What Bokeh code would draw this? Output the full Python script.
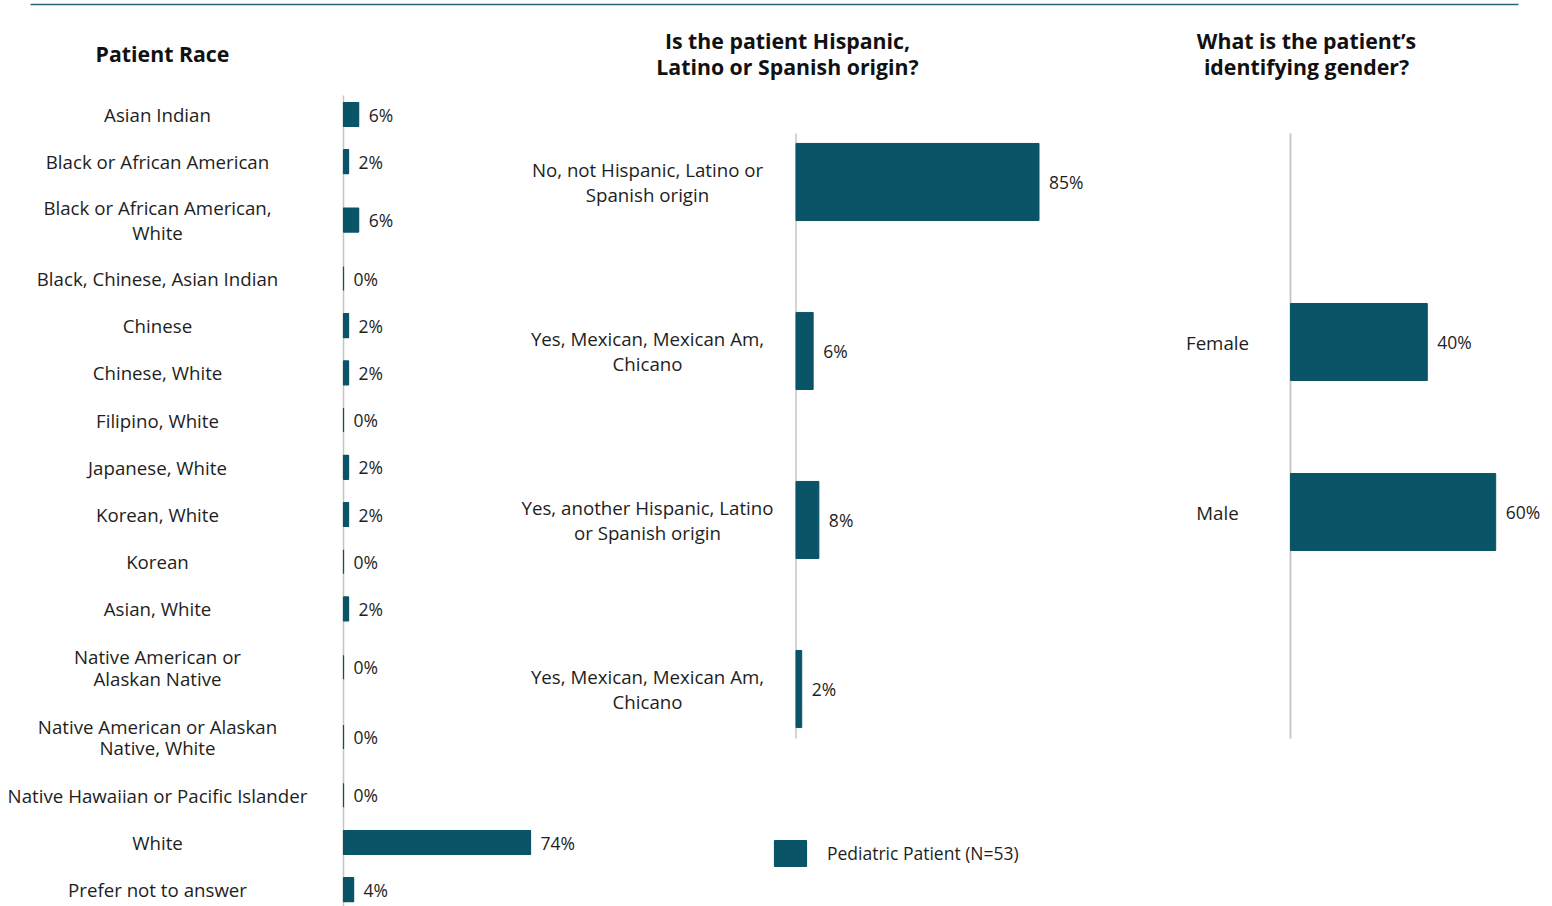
from bokeh.plotting import figure
from bokeh.models import Range1d, ColumnDataSource, Legend, LegendItem
from bokeh.core.properties import value
from bokeh.embed import file_html
from bokeh.resources import INLINE

# ---------------- data ----------------
race_labels = [
    "Asian Indian",
    "Black or African American",
    "Black or African American,\nWhite",
    "Black, Chinese, Asian Indian",
    "Chinese",
    "Chinese, White",
    "Filipino, White",
    "Japanese, White",
    "Korean, White",
    "Korean",
    "Asian, White",
    "Native American or\nAlaskan Native",
    "Native American or Alaskan\nNative, White",
    "Native Hawaiian or Pacific Islander",
    "White",
    "Prefer not to answer",
]
race_values = [6, 2, 6, 0, 2, 2, 0, 2, 2, 0, 2, 0, 0, 0, 74, 4]

hisp_labels = [
    "No, not Hispanic, Latino or\nSpanish origin",
    "Yes, Mexican, Mexican Am,\nChicano",
    "Yes, another Hispanic, Latino\nor Spanish origin",
    "Yes, Mexican, Mexican Am,\nChicano",
]
hisp_values = [85, 6, 8, 2]

gender_labels = ["Female", "Male"]
gender_values = [40, 60]

series_name = "Pediatric Patient (N=53)"
title_race = "Patient Race"
title_hisp = "Is the patient Hispanic,\nLatino or Spanish origin?"
title_gender = "What is the patient\u2019s\nidentifying gender?"

# ---------------- style ----------------
BAR = "#0a5468"
TXT = "#1e1e1e"
AXIS = "#c4c4c4"
RULE = "#2a6577"
FONT = value("Open Sans")
LBL_SIZE = "18.7px"
VAL_SIZE = "17.5px"

W, H = 1552, 906
OX, OY = 0, 0  # page offset of the canvas

p = figure(width=W, height=H, output_backend="svg", toolbar_location=None,
           x_range=Range1d(OX, OX + W), y_range=Range1d(OY + H, OY),
           x_axis_location=None, y_axis_location=None, min_border=0,
           outline_line_color=None, background_fill_color="white",
           border_fill_color="white")
p.grid.visible = False

# percentage scales for each panel (zero line page-x, px per percent)
def prange(zero_px, px_per):
    return Range1d((OX - zero_px) / px_per, (OX + W - zero_px) / px_per)

def irange(first_px, step_px):
    return Range1d((OY + H - first_px) / step_px, (OY - first_px) / step_px)

p.extra_x_ranges = {
    "race": prange(343, 187 / 74),
    "hisp": prange(795.5, 243 / 85),
    "gender": prange(1290, 3.42),
}
p.extra_y_ranges = {
    "hisp": irange(181.5, 169),
    "gender": irange(341.5, 170),
}

# top rule
p.segment(x0=[30], y0=[4], x1=[1518], y1=[4], line_color=RULE, line_width=1.5)

# ---------- race panel ----------
def stack_centers(labels, first, half1, half2):
    ys, y, prev = [], first, None
    for lab in labels:
        h = half2 if "\n" in lab else half1
        if prev is not None:
            y += prev + h
        ys.append(y)
        prev = h
    return ys

race_y = stack_centers(race_labels, 114, 23.6, 34.8)
race_src = ColumnDataSource(dict(
    y=race_y, v=race_values, lab=race_labels,
    txt=[f"{v}%" for v in race_values]))

p.segment(x0=[0], x1=[0], y0=[95], y1=[OY + H], x_range_name="race",
          line_color=AXIS, line_width=1.5)
race_r = p.hbar(y="y", left=0, right="v", height=24, source=race_src,
                x_range_name="race", fill_color=BAR, line_color=BAR, line_width=1.2)
p.text(x="v", y="y", text="txt", source=race_src, x_range_name="race",
       x_offset=10, text_align="left", text_baseline="middle",
       text_font=FONT, text_font_size=VAL_SIZE, text_color=TXT)

# category labels: the two "Native American" rows are set tighter
tight = [i for i, lab in enumerate(race_labels) if lab.startswith("Native American")]
loose = [i for i in range(len(race_labels)) if i not in tight]
for idx, lh in ((loose, 1.02), (tight, 0.86)):
    src = ColumnDataSource(dict(y=[race_y[i] for i in idx],
                                lab=[race_labels[i] for i in idx]))
    p.text(x=157, y="y", text="lab", source=src,
           text_align="center", text_baseline="middle", text_line_height=lh,
           text_font=FONT, text_font_size=LBL_SIZE, text_color=TXT)

# ---------- hispanic panel ----------
hisp_src = ColumnDataSource(dict(
    i=list(range(len(hisp_values))), v=hisp_values, lab=hisp_labels,
    txt=[f"{v}%" for v in hisp_values]))
p.segment(x0=[0], x1=[0], y0=[133], y1=[738], x_range_name="hisp",
          line_color=AXIS, line_width=1.5)
p.hbar(y="i", left=0, right="v", height=0.456, source=hisp_src,
       x_range_name="hisp", y_range_name="hisp",
       fill_color=BAR, line_color=BAR, line_width=1)
p.text(x="v", y="i", text="txt", source=hisp_src, x_range_name="hisp",
       y_range_name="hisp", x_offset=10, text_align="left", text_baseline="middle",
       text_font=FONT, text_font_size=VAL_SIZE, text_color=TXT)
p.text(x=647, y="i", text="lab", source=hisp_src, y_range_name="hisp",
       text_align="center", text_baseline="middle", text_line_height=1.02,
       text_font=FONT, text_font_size=LBL_SIZE, text_color=TXT)

# ---------- gender panel ----------
gen_src = ColumnDataSource(dict(
    i=list(range(len(gender_values))), v=gender_values, lab=gender_labels,
    txt=[f"{v}%" for v in gender_values]))
p.segment(x0=[0], x1=[0], y0=[133], y1=[738], x_range_name="gender",
          line_color=AXIS, line_width=1.8)
p.hbar(y="i", left=0, right="v", height=0.453, source=gen_src,
       x_range_name="gender", y_range_name="gender",
       fill_color=BAR, line_color=BAR, line_width=1)
p.text(x="v", y="i", text="txt", source=gen_src, x_range_name="gender",
       y_range_name="gender", x_offset=10, text_align="left", text_baseline="middle",
       text_font=FONT, text_font_size=VAL_SIZE, text_color=TXT)
p.text(x=1217, y="i", text="lab", source=gen_src, y_range_name="gender",
       text_align="center", text_baseline="middle",
       text_font=FONT, text_font_size=LBL_SIZE, text_color=TXT)

# ---------- titles ----------
for tx, tt in ((162, title_race), (787, title_hisp), (1306, title_gender)):
    p.text(x=[tx], y=[53], text=[tt], text_align="center", text_baseline="middle",
           text_line_height=0.9, text_font=FONT, text_font_style="bold",
           text_font_size="21.3px", text_color="#111111")

# ---------- legend ----------
legend = Legend(items=[LegendItem(label=series_name, renderers=[race_r])],
                location=(770, 37), glyph_width=40, glyph_height=32,
                label_height=32, label_standoff=17, padding=0, margin=0,
                border_line_color=None, background_fill_alpha=0,
                label_text_font="Open Sans", label_text_font_size=VAL_SIZE,
                label_text_color=TXT)
p.add_layout(legend)

open("out.html", "w").write(file_html(p, INLINE))
